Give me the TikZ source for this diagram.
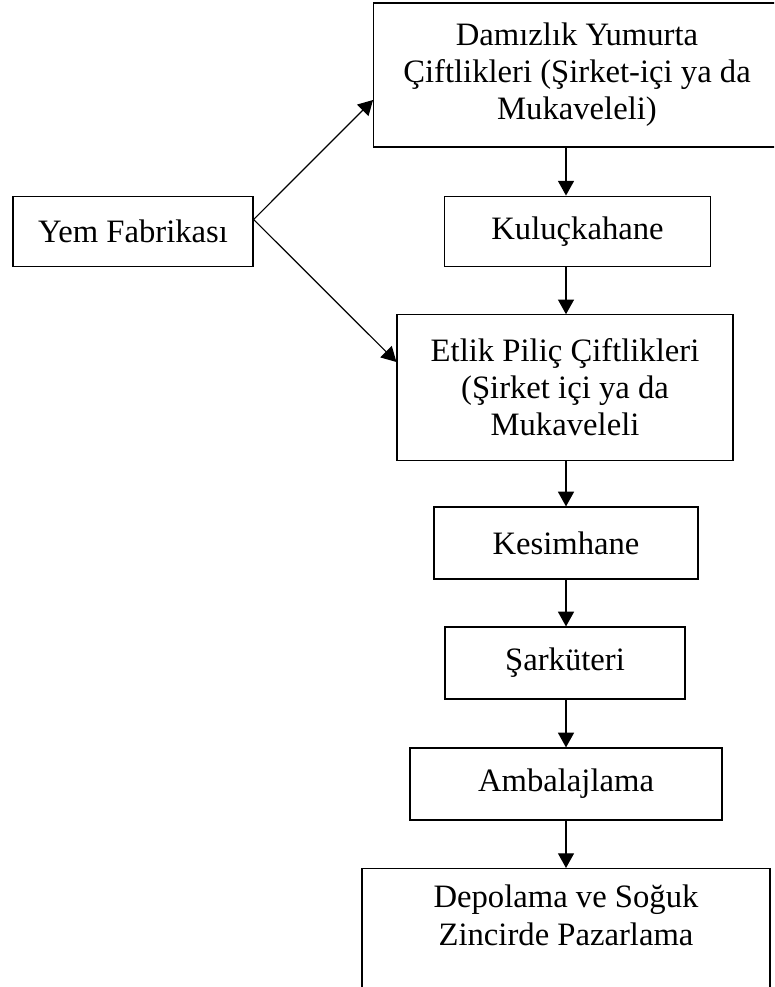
\documentclass[tikz,border=0pt]{standalone}
\usepackage{fontspec}
\setmainfont{Liberation Serif}
\usetikzlibrary{arrows.meta,positioning}
\tikzstyle{arrow} = [line width=0.9pt,-{Triangle[length=11pt,width=12pt]}]
\tikzstyle{stage} = [rectangle, draw=black, line width=0.9pt, text centered, align=center, inner sep=0pt, font=\fontsize{24.5}{27.8}\selectfont]

\begin{document}
\begin{tikzpicture}[x=0.75pt, y=-0.75pt]
\path[use as bounding box, clip] (0,0) rectangle (774,987);
% Feed mill on the left
\node (yem) [stage, minimum width=180pt, minimum height=53pt] at (133,231.5) {Yem Fabrikası};

% Main chain
\node (damizlik) [stage, minimum width=305pt, minimum height=108pt] at (577,75) {Damızlık Yumurta\\Çiftlikleri (Şirket-içi ya da\\Mukaveleli)};
\node (kulucka) [stage, minimum width=199pt, minimum height=53pt] at (577.5,231.5) {Kuluçkahane};
\node (etlik) [stage, minimum width=252pt, minimum height=109pt] at (565,387.5) {Etlik Piliç Çiftlikleri\\(Şirket içi ya da\\Mukaveleli};
\node (kesim) [stage, minimum width=198pt, minimum height=54pt] at (566,543) {Kesimhane};
\node (sarkuteri) [stage, minimum width=180pt, minimum height=54pt] at (565,663) {Şarküteri};
\node (ambalaj) [stage, minimum width=234pt, minimum height=54pt] at (566,784) {Ambalajlama};
% Last box runs past the bottom edge
\node (depo) [stage, anchor=north, minimum width=306pt, text height=29.5pt, text depth=70pt] at (566,868) {\begin{tabular}[t]{@{}c@{}}Depolama ve Soğuk\\Zincirde Pazarlama\end{tabular}};

\coordinate (axis) at (566,0);
\coordinate (fork) at ([yshift=9pt]yem.east);

% Arrows
\draw[arrow] (fork) -- (damizlik.west |- 0,100);
\draw[arrow] (fork) -- (etlik.west |- 0,362);
\draw[arrow] (damizlik.south -| axis) -- (kulucka.north -| axis);
\draw[arrow] (kulucka.south -| axis) -- (etlik.north -| axis);
\draw[arrow] (etlik.south -| axis) -- (kesim.north -| axis);
\draw[arrow] (kesim.south -| axis) -- (sarkuteri.north -| axis);
\draw[arrow] (sarkuteri.south -| axis) -- (ambalaj.north -| axis);
\draw[arrow] (ambalaj.south -| axis) -- (depo.north -| axis);
\end{tikzpicture}
\end{document}
